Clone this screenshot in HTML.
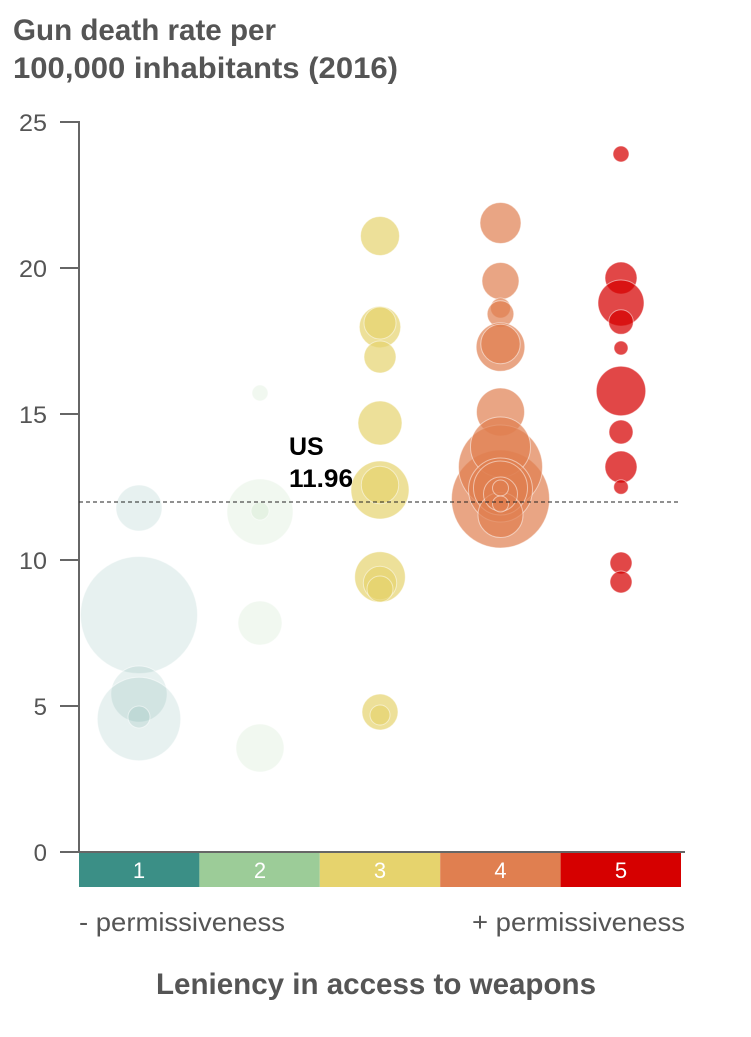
<!DOCTYPE html>
<html><head><meta charset="utf-8"><style>
html,body{margin:0;padding:0;background:#fff;}
svg{display:block;}
text{font-family:"Liberation Sans",sans-serif;}
</style></head><body>
<svg width="751" height="1037" viewBox="0 0 751 1037" xmlns="http://www.w3.org/2000/svg">
<rect width="751" height="1037" fill="#fff"/>
<text x="13" y="40" font-size="30" font-weight="bold" fill="#555" textLength="263" lengthAdjust="spacingAndGlyphs">Gun death rate per</text>
<text x="13" y="78" font-size="30" font-weight="bold" fill="#555" textLength="385" lengthAdjust="spacingAndGlyphs">100,000 inhabitants (2016)</text>

<g font-size="24" fill="#555" text-anchor="end">
<text x="47" y="131" textLength="28" lengthAdjust="spacingAndGlyphs">25</text>
<text x="47" y="277" textLength="28" lengthAdjust="spacingAndGlyphs">20</text>
<text x="47" y="423" textLength="28" lengthAdjust="spacingAndGlyphs">15</text>
<text x="47" y="569" textLength="28" lengthAdjust="spacingAndGlyphs">10</text>
<text x="47" y="715">5</text>
<text x="47" y="861">0</text>
</g>
<g stroke="#666" stroke-width="2">
<line x1="60" y1="122" x2="79" y2="122"/>
<line x1="60" y1="268" x2="79" y2="268"/>
<line x1="60" y1="414" x2="79" y2="414"/>
<line x1="60" y1="560" x2="79" y2="560"/>
<line x1="60" y1="706" x2="79" y2="706"/>
<line x1="79" y1="121" x2="79" y2="852"/>
</g>

<g stroke="#fff" stroke-opacity="0.5" stroke-width="1">
<g fill="rgba(59,143,134,0.12)">
<circle cx="139" cy="508" r="23"/>
<circle cx="139" cy="615" r="58.5"/>
<circle cx="139" cy="694" r="28"/>
<circle cx="139" cy="719" r="41.7"/>
<circle cx="139" cy="717" r="11"/>
</g>
<g fill="rgba(156,204,152,0.14)">
<circle cx="260" cy="393" r="8"/>
<circle cx="260" cy="512" r="33"/>
<circle cx="260" cy="511" r="9"/>
<circle cx="260" cy="623" r="22"/>
<circle cx="260" cy="748" r="24"/>
</g>
<g fill="rgba(230,211,109,0.7)">
<circle cx="380" cy="236" r="19.5"/>
<circle cx="380" cy="327" r="20.7"/>
<circle cx="380" cy="323" r="16"/>
<circle cx="380" cy="357" r="16"/>
<circle cx="380" cy="423" r="22"/>
<circle cx="380" cy="490" r="29"/>
<circle cx="380" cy="485" r="18.7"/>
<circle cx="380" cy="577" r="25.3"/>
<circle cx="380" cy="583" r="16.7"/>
<circle cx="380" cy="589" r="13"/>
<circle cx="380" cy="712" r="18"/>
<circle cx="380" cy="715" r="10"/>
</g>
<g fill="rgba(224,127,80,0.7)">
<circle cx="500.5" cy="223" r="20.5"/>
<circle cx="500.5" cy="281" r="18.5"/>
<circle cx="500.5" cy="308" r="10"/>
<circle cx="500.5" cy="314" r="13.3"/>
<circle cx="500.5" cy="347" r="24.3"/>
<circle cx="500.5" cy="344" r="19.7"/>
<circle cx="500.5" cy="412" r="24"/>
<circle cx="500.5" cy="499" r="49"/>
<circle cx="500.5" cy="467" r="42"/>
<circle cx="500.5" cy="447" r="30"/>
<circle cx="500.5" cy="490" r="32"/>
<circle cx="500.5" cy="488" r="27"/>
<circle cx="500.5" cy="515" r="22.5"/>
<circle cx="500.5" cy="494" r="17"/>
<circle cx="500.5" cy="488" r="8"/>
<circle cx="500.5" cy="504" r="8"/>
</g>
<g fill="rgba(214,0,0,0.72)">
<circle cx="621" cy="154" r="8"/>
<circle cx="621" cy="278" r="16"/>
<circle cx="621" cy="303" r="23"/>
<circle cx="621" cy="322" r="12.3"/>
<circle cx="621" cy="348" r="7"/>
<circle cx="621" cy="391" r="24.7"/>
<circle cx="621" cy="432" r="12"/>
<circle cx="621" cy="467" r="16"/>
<circle cx="621" cy="487" r="7.3"/>
<circle cx="621" cy="563" r="11"/>
<circle cx="621" cy="582" r="11"/>
</g>
</g>

<line x1="79" y1="502" x2="681" y2="502" stroke="#222" stroke-width="1" stroke-dasharray="4,3"/>
<text x="289" y="455" font-size="25" font-weight="bold" fill="#000">US</text>
<text x="289" y="487" font-size="25" font-weight="bold" fill="#000" textLength="64" lengthAdjust="spacingAndGlyphs">11.96</text>

<rect x="79" y="853" width="120.4" height="34" fill="#3b8f86"/>
<rect x="199.4" y="853" width="120.4" height="34" fill="#9ccc98"/>
<rect x="319.8" y="853" width="120.4" height="34" fill="#e6d36d"/>
<rect x="440.2" y="853" width="120.4" height="34" fill="#e07f50"/>
<rect x="560.6" y="853" width="120.4" height="34" fill="#d60000"/>
<line x1="60" y1="852" x2="685" y2="852" stroke="#666" stroke-width="2"/>
<g font-size="22" fill="#fff" text-anchor="middle">
<text x="139" y="878">1</text>
<text x="260" y="878">2</text>
<text x="380" y="878">3</text>
<text x="500.5" y="878">4</text>
<text x="621" y="878">5</text>
</g>
<text x="79" y="931" font-size="26" fill="#555" textLength="206" lengthAdjust="spacingAndGlyphs">- permissiveness</text>
<text x="472" y="931" font-size="26" fill="#555" textLength="213" lengthAdjust="spacingAndGlyphs">+ permissiveness</text>
<text x="156" y="994" font-size="30" font-weight="bold" fill="#555" textLength="440" lengthAdjust="spacingAndGlyphs">Leniency in access to weapons</text>
</svg>
</body></html>
